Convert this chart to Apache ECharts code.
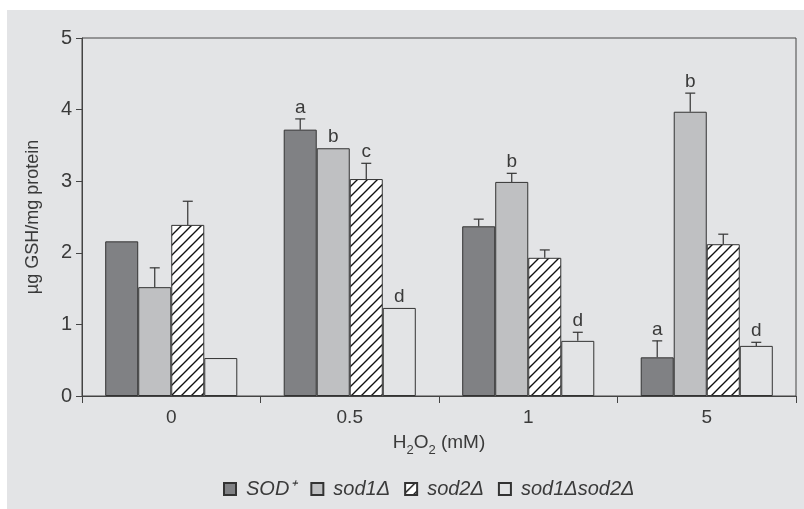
<!DOCTYPE html>
<html><head><meta charset="utf-8">
<script src="https://cdn.jsdelivr.net/npm/echarts@6/dist/echarts.min.js"></script>
<style>
html,body{margin:0;padding:0;background:#ffffff;}
#c{position:absolute;left:7px;top:10px;width:797px;height:499px;}
</style></head>
<body><div id="c"></div>
<script>
const categories = ['0', '0.5', '1', '5'];
const seriesNames = ['SOD\u207A', 'sod1\u0394', 'sod2\u0394', 'sod1\u0394sod2\u0394'];
const sodPlus = [2.16, 3.72, 2.37, 0.54];
const sodPlusErr = [0, 0.15, 0.10, 0.23];
const sod1 = [1.52, 3.46, 2.99, 3.97];
const sod1Err = [0.27, 0, 0.12, 0.26];
const sod2 = [2.39, 3.03, 1.93, 2.12];
const sod2Err = [0.33, 0.22, 0.11, 0.14];
const sod12 = [0.53, 1.23, 0.77, 0.70];
const sod12Err = [0, 0, 0.12, 0.05];
const sodPlusLetters = ['', 'a', '', 'a'];
const sod1Letters = ['', 'b', 'b', 'b'];
const sod2Letters = ['', 'c', '', ''];
const sod12Letters = ['', 'd', 'd', 'd'];
const yTicks = [0, 1, 2, 3, 4, 5];

const values = [sodPlus, sod1, sod2, sod12];
const errs = [sodPlusErr, sod1Err, sod2Err, sod12Err];
const letters = [sodPlusLetters, sod1Letters, sod2Letters, sod12Letters];

// hatch pattern
const T = 10;
const pc = document.createElement('canvas');
pc.width = T; pc.height = T;
const ctx = pc.getContext('2d');
ctx.fillStyle = '#ffffff'; ctx.fillRect(0, 0, T, T);
ctx.strokeStyle = '#111111'; ctx.lineWidth = 1.4;
ctx.beginPath();
ctx.moveTo(-1, T + 1); ctx.lineTo(T + 1, -1);
ctx.moveTo(-2, 2); ctx.lineTo(2, -2);
ctx.moveTo(T - 2, T + 2); ctx.lineTo(T + 2, T - 2);
ctx.stroke();

const bg = '#e3e4e6';
const fills = ['#808184', '#bfc0c2', {image: pc, repeat: 'repeat'}, bg];
const txt = '#3a3a3a';
const FONT = 'Liberation Sans, Arial, sans-serif';
const catGap = 0.26;

const errData = [];
for (let s = 0; s < 4; s++) {
  for (let c = 0; c < categories.length; c++) {
    errData.push([c, values[s][c], errs[s][c], s, letters[s][c]]);
  }
}

const barSeries = seriesNames.map((n, i) => ({
  name: n, type: 'bar', data: values[i],
  barGap: '0%', barCategoryGap: (catGap * 100) + '%',
  itemStyle: {color: fills[i], borderColor: '#333333', borderWidth: 1},
  emphasis: {disabled: true}
}));

const errSeries = {
  type: 'custom', data: errData, z: 5, silent: true,
  renderItem: function (params, api) {
    const c = api.value(0), v = api.value(1), e = api.value(2), s = api.value(3);
    const letter = errData[params.dataIndex][4];
    const band = api.size([1, 0])[0];
    const group = band * (1 - catGap);
    const bw = group / 4;
    const center = api.coord([c, 0])[0];
    const x = center - group / 2 + (s + 0.5) * bw;
    const yTop = api.coord([c, v])[1];
    const yErr = api.coord([c, v + e])[1];
    const children = [];
    const st = {stroke: '#333333', lineWidth: 1.2};
    if (e > 0) {
      children.push({type: 'line', shape: {x1: x, y1: yTop, x2: x, y2: yErr}, style: st});
      children.push({type: 'line', shape: {x1: x - 5, y1: yErr, x2: x + 5, y2: yErr}, style: st});
    }
    if (letter) {
      children.push({type: 'text', style: {
        text: letter, x: x, y: yErr - 2, align: 'center', verticalAlign: 'bottom',
        fill: txt, font: '19px ' + FONT
      }});
    }
    return {type: 'group', children: children};
  }
};

const chart = echarts.init(document.getElementById('c'));
chart.setOption({
  backgroundColor: bg,
  animation: false,
  textStyle: {fontFamily: FONT},
  grid: {left: 75, top: 28, right: 8, bottom: 113, show: true, borderColor: '#444444', borderWidth: 1, backgroundColor: 'transparent'},
  legend: {
    data: seriesNames, left: 211, top: 464,
    icon: 'rect',
    itemWidth: 12, itemHeight: 12, itemGap: 14,
    textStyle: {fontStyle: 'italic', fontSize: 20, color: txt, fontFamily: FONT, padding: [0, 0, 0, 5]},
    selectedMode: false
  },
  xAxis: {
    type: 'category', data: categories,
    axisLine: {lineStyle: {color: '#444444', width: 1}},
    axisTick: {show: true, alignWithLabel: false, length: 7, lineStyle: {color: '#444444'}},
    axisLabel: {color: txt, fontSize: 19, margin: 12},
    name: '{n|H}{s|2}{n|O}{s|2}{n| (mM)}',
    nameLocation: 'middle', nameGap: 37,
    nameTextStyle: {
      rich: {
        n: {fontSize: 19, color: txt, fontFamily: FONT, verticalAlign: 'top', lineHeight: 24},
        s: {fontSize: 13, color: txt, fontFamily: FONT, verticalAlign: 'bottom', lineHeight: 24, padding: [10, 0, 0, 0]}
      }
    }
  },
  yAxis: {
    type: 'value', min: 0, max: 5, interval: 1,
    axisLine: {show: true, lineStyle: {color: '#444444', width: 1}},
    axisTick: {show: true, length: 6, lineStyle: {color: '#444444'}},
    splitLine: {show: false},
    axisLabel: {color: txt, fontSize: 20, margin: 10,
      formatter: v => (yTicks.indexOf(v) >= 0 ? String(v) : '')},
    name: '\u00B5g GSH/mg protein', nameLocation: 'middle', nameGap: 40,
    nameTextStyle: {color: txt, fontSize: 18, fontFamily: FONT}
  },
  series: barSeries.concat([errSeries])
});
</script></body></html>
